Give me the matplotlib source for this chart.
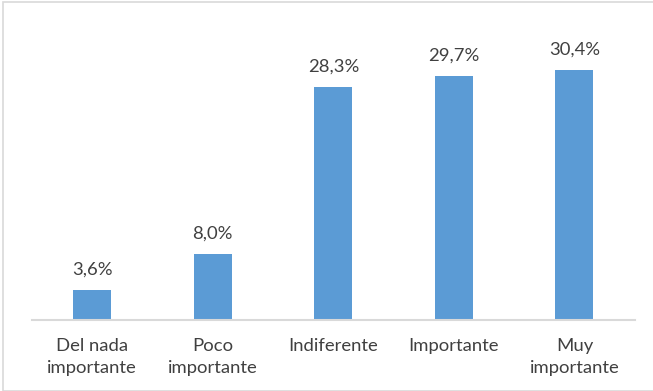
import matplotlib.pyplot as plt
from matplotlib.patches import Rectangle

categories = ["Del nada\nimportante", "Poco\nimportante", "Indiferente", "Importante", "Muy\nimportante"]
values = [3.6, 8.0, 28.3, 29.7, 30.4]
labels = ["3,6%", "8,0%", "28,3%", "29,7%", "30,4%"]

plt.rcParams['font.family'] = ['Lato', 'DejaVu Sans']

fig = plt.figure(figsize=(6.53, 3.91), dpi=100)
ax = fig.add_axes([0.049, 0.1816, 0.923, 0.767])

x = range(len(values))
bars = ax.bar(x, values, width=0.315, color='#5B9BD5', zorder=2)

for b, lab in zip(bars, labels):
    ax.annotate(lab, (b.get_x() + b.get_width() / 2, b.get_height()),
                xytext=(0, 9), textcoords='offset points',
                ha='center', va='bottom', fontsize=13.3, color='#404040')

ax.set_xlim(-0.5, 4.5)
ax.set_ylim(0, 36.5)
ax.set_xticks(list(x))
ax.set_xticklabels(categories, fontsize=13.3, color='#404040', linespacing=1.45)
ax.tick_params(axis='x', length=0, pad=13)
ax.set_yticks([])
for s in ['top', 'right', 'left']:
    ax.spines[s].set_visible(False)
ax.spines['bottom'].set_color('#D9D9D9')
ax.spines['bottom'].set_linewidth(1.5)

# light frame around the chart area
fig.patches.append(Rectangle((0.004, 0.0), 1.2, 0.995, transform=fig.transFigure,
                             fill=False, edgecolor='#D9D9D9', linewidth=1.2))

fig.savefig('out.png', dpi=100)
